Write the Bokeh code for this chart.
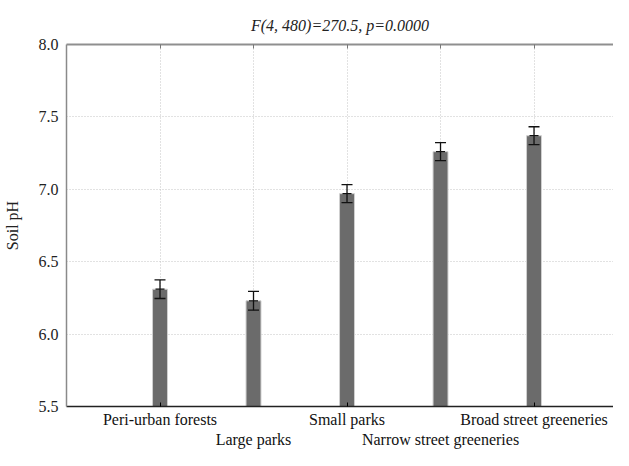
from bokeh.plotting import figure
from bokeh.models import (ColumnDataSource, LinearAxis, FixedTicker, Whisker,
                          TeeHead, Title, Range1d, Grid)
from bokeh.embed import file_html
from bokeh.resources import INLINE

categories = ["Peri-urban forests", "Large parks", "Small parks",
              "Narrow street greeneries", "Broad street greeneries"]
positions = [1, 2, 3, 4, 5]
means = [6.31, 6.23, 6.97, 7.26, 7.37]
errors = [0.064, 0.065, 0.062, 0.062, 0.062]
y_ticks = [5.5, 6.0, 6.5, 7.0, 7.5, 8.0]
y_tick_labels = ["5.5", "6.0", "6.5", "7.0", "7.5", "8.0"]
title_text = "F(4, 480)=270.5, p=0.0000"
y_label = "Soil pH"

upper = [m + e for m, e in zip(means, errors)]
lower = [m - e for m, e in zip(means, errors)]
src = ColumnDataSource(dict(x=positions, top=means, upper=upper, lower=lower))

SERIF = "Liberation Serif"

p = figure(width=613, height=450, output_backend="svg", toolbar_location=None,
           x_range=Range1d(0, 5.85), y_range=Range1d(5.5, 8.0),
           x_axis_type=None, y_axis_type=None,
           min_border_left=60, min_border_right=0, min_border_top=44,
           min_border_bottom=0)
p.outline_line_color = None
p.background_fill_color = "white"
p.border_fill_color = "white"

p.title = Title(text=title_text, align="center", text_font=SERIF,
                text_font_style="italic", text_font_size="16px",
                text_color="#222222", standoff=22)

# y axis
yax = LinearAxis(ticker=FixedTicker(ticks=y_ticks),
                 major_label_overrides={t: l for t, l in zip(y_ticks, y_tick_labels)})
yax.axis_label = y_label
yax.axis_label_text_font = SERIF
yax.axis_label_text_font_style = "normal"
yax.axis_label_text_font_size = "16px"
yax.axis_label_text_color = "#222222"
yax.axis_label_standoff = 15
yax.major_label_text_font = SERIF
yax.major_label_text_font_size = "16px"
yax.major_label_text_color = "#222222"
yax.major_label_standoff = 8
yax.axis_line_color = "#8a8a8a"
yax.axis_line_width = 1.5
yax.major_tick_out = 0
yax.major_tick_in = 0
yax.minor_tick_line_color = None
p.add_layout(yax, "left")

# top border axis with inward ticks
tax = LinearAxis(ticker=FixedTicker(ticks=positions),
                 major_label_overrides={t: "" for t in positions})
tax.major_label_standoff = 0
tax.axis_line_color = "#8f8f8f"
tax.axis_line_width = 2
tax.major_tick_in = 4
tax.major_tick_out = 0
tax.major_tick_line_color = "#777777"
tax.minor_tick_line_color = None
p.add_layout(tax, "above")

# bottom axes: staggered labels
odd = [positions[i] for i in range(0, 5, 2)]
even = [positions[i] for i in range(1, 5, 2)]
bax1 = LinearAxis(ticker=FixedTicker(ticks=odd),
                  major_label_overrides={positions[i]: categories[i] for i in range(0, 5, 2)})
bax2 = LinearAxis(ticker=FixedTicker(ticks=even),
                  major_label_overrides={positions[i]: categories[i] for i in range(1, 5, 2)})
for ax in (bax1, bax2):
    ax.major_label_text_font = SERIF
    ax.major_label_text_font_size = "16px"
    ax.major_label_text_color = "#111111"
    ax.minor_tick_line_color = None
bax1.axis_line_color = "#222222"
bax1.axis_line_width = 1.5
bax1.major_tick_in = 4
bax1.major_tick_out = 0
bax1.major_label_standoff = 4
bax2.axis_line_color = None
bax2.major_tick_line_color = None
bax2.major_tick_in = 0
bax2.major_tick_out = 0
bax2.major_label_standoff = 0
p.add_layout(bax1, "below")
p.add_layout(bax2, "below")

# grids
hg = Grid(dimension=1, ticker=FixedTicker(ticks=y_ticks[1:-1]),
          grid_line_color="#c4c4c4", grid_line_dash="1 2", grid_line_width=1)
vg = Grid(dimension=0, ticker=FixedTicker(ticks=positions),
          grid_line_color="#c4c4c4", grid_line_dash="1 2", grid_line_width=1)
p.add_layout(hg)
p.add_layout(vg)

p.vbar(x="x", top="top", bottom=5.5, width=0.16, source=src,
       fill_color="#6b6b6b", line_color="#d0d0d0", line_width=1)

wh = Whisker(base="x", upper="upper", lower="lower", source=src,
             line_color="#111111", line_width=1.3, level="overlay",
             upper_head=TeeHead(size=11, line_color="#111111", line_width=1.3),
             lower_head=TeeHead(size=11, line_color="#111111", line_width=1.3))
p.add_layout(wh)
p.scatter(x="x", y="top", source=src, marker="dash", size=9,
          line_color="#111111", line_width=1.3)

open("out.html", "w").write(file_html(p, INLINE))
